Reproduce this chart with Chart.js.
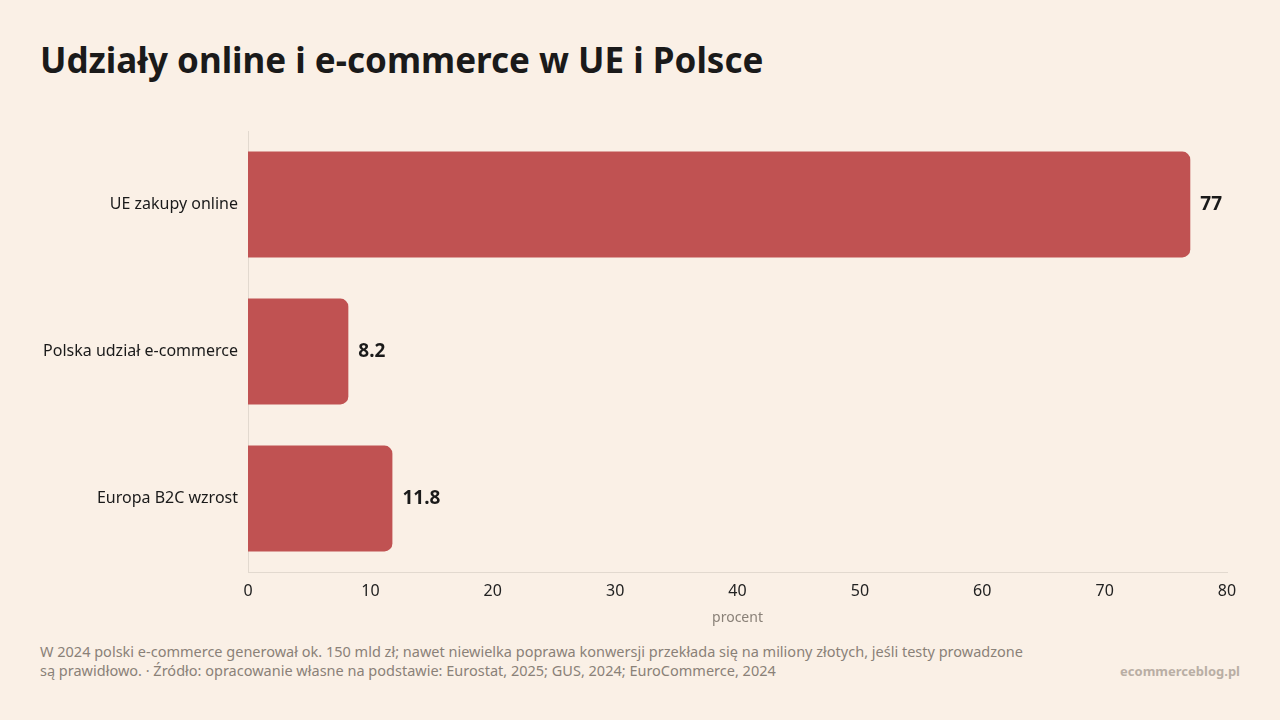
<!DOCTYPE html>
<html lang="pl">
<head>
<meta charset="utf-8">
<script src="https://cdn.jsdelivr.net/npm/chart.js@4/dist/chart.umd.min.js"></script>
<style>
  html, body { margin: 0; padding: 0; }
  body {
    width: 1280px; height: 720px; overflow: hidden;
    background: #faf0e6;
    font-family: "Noto Sans", "Open Sans", sans-serif;
    position: relative;
  }
  h1 {
    position: absolute; left: 40px; top: 36px; margin: 0;
    font-size: 35px; font-weight: 700; color: #1a1a1a;
    letter-spacing: 0;
  }
  #wrap { position: absolute; left: 0; top: 111px; width: 1280px; height: 524px; }
  .note {
    position: absolute; left: 40px; top: 642px; width: 1000px;
    font-size: 14.5px; line-height: 19px; color: #8a8178;
  }
  .brand {
    position: absolute; right: 40px; top: 662px;
    font-size: 13px; font-weight: 700; color: #b9aea4;
  }
</style>
</head>
<body>
<h1>Udziały online i e-commerce w UE i Polsce</h1>
<div id="wrap"><canvas id="chart"></canvas></div>
<div class="note">W 2024 polski e-commerce generował ok. 150 mld zł; nawet niewielka poprawa konwersji przekłada się na miliony złotych, jeśli testy prowadzone są prawidłowo. · Źródło: opracowanie własne na podstawie: Eurostat, 2025; GUS, 2024; EuroCommerce, 2024</div>
<div class="brand">ecommerceblog.pl</div>
<script>
// categories and values
const categories = ["UE zakupy online", "Polska udział e-commerce", "Europa B2C wzrost"];
const values = [77, 8.2, 11.8];
const axisMax = 80;

// draws the value next to each bar end
const valueLabels = {
    id: 'valueLabels',
    afterDatasetsDraw(chart) {
        const ctx = chart.ctx;
        ctx.save();
        ctx.font = '700 19px "Noto Sans", sans-serif';
        ctx.fillStyle = '#1a1a1a';
        ctx.textBaseline = 'middle';
        ctx.textAlign = 'left';
        chart.getDatasetMeta(0).data.forEach((bar, i) => {
            ctx.fillText(String(values[i]), bar.x + 10, bar.y);
        });
        ctx.restore();
    }
};

new Chart(document.getElementById('chart'), {
    type: 'bar',
    data: {
        labels: categories,
        datasets: [{
            data: values,
            backgroundColor: '#c05252',
            borderRadius: 8,
            borderSkipped: 'start',
            barPercentage: 0.72,
            categoryPercentage: 1
        }]
    },
    options: {
        indexAxis: 'y',
        responsive: true,
        maintainAspectRatio: false,
        animation: false,
        layout: { padding: { top: 20, right: 53, bottom: 0, left: 0 } },
        plugins: {
            legend: { display: false },
            tooltip: { enabled: false }
        },
        scales: {
            x: {
                min: 0,
                max: axisMax,
                ticks: {
                    stepSize: 10,
                    color: '#222',
                    font: { family: '"Noto Sans", sans-serif', size: 16 },
                    padding: 10
                },
                grid: { display: false, drawTicks: false },
                border: { display: true, color: '#e2d9cf' },
                title: {
                    display: true,
                    text: 'procent',
                    color: '#8a8178',
                    font: { family: '"Noto Sans", sans-serif', size: 14 },
                    padding: { top: 4, bottom: 9 }
                },
                afterFit(scale) { scale.height = 63; }
            },
            y: {
                ticks: {
                    color: '#1a1a1a',
                    font: { family: '"Noto Sans", sans-serif', size: 16 },
                    padding: 10
                },
                grid: { display: false, drawTicks: false },
                border: { display: true, color: '#e2d9cf' },
                afterFit(scale) { scale.width = 248; }
            }
        }
    },
    plugins: [valueLabels]
});
</script>
</body>
</html>
